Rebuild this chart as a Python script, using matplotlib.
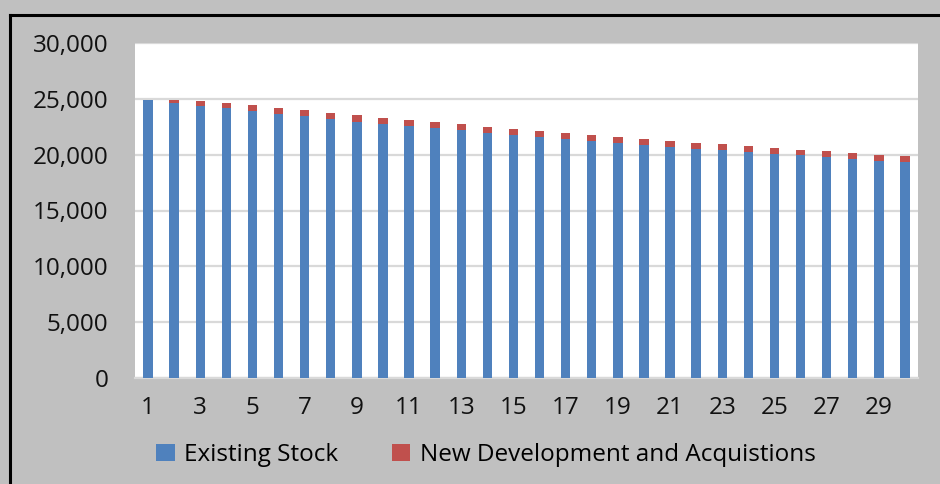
import matplotlib
matplotlib.use("Agg")
import matplotlib.pyplot as plt
from matplotlib.lines import Line2D
from matplotlib.ticker import FuncFormatter

# years 1..30
years = list(range(1, 31))
existing_stock = [24860, 24590, 24350, 24140, 23880, 23630, 23430, 23190, 22950, 22770,
                  22530, 22350, 22180, 21960, 21780, 21580, 21400, 21220, 21040, 20860,
                  20680, 20530, 20380, 20230, 20080, 19940, 19760, 19580, 19450, 19310]
new_dev = [0, 330, 480, 480, 530, 540, 530, 530, 570, 540,
           570, 540, 530, 540, 510, 530, 530, 530, 540, 540,
           570, 510, 540, 540, 510, 500, 540, 560, 550, 540]
series_names = ['Existing Stock', 'New Development and Acquistions']

plt.rcParams['font.family'] = ['Open Sans', 'DejaVu Sans']

fig = plt.figure(figsize=(9.4, 4.84), dpi=100)
fig.patch.set_facecolor('#c0c0c0')
# frame lines (left and top)
fig.add_artist(Line2D([10/940, 10/940], [0, 1 - 15/484], color='black', lw=2.2))
fig.add_artist(Line2D([10/940, 1], [1 - 15/484, 1 - 15/484], color='black', lw=2.2))

ax = fig.add_axes([135/940, 106/484, 783/940, 335/484])
ax.set_facecolor('white')
ax.bar(years, existing_stock, width=0.36, color='#4f81bd', label=series_names[0], zorder=3)
ax.bar(years, new_dev, width=0.36, bottom=existing_stock, color='#c0504d',
       label=series_names[1], zorder=3)

ax.set_xlim(0.5, 30.5)
ax.set_ylim(0, 30000)
ax.set_yticks(range(0, 30001, 5000))
ax.yaxis.set_major_formatter(FuncFormatter(lambda v, p: f'{int(v):,}'))
ax.set_xticks(years[::2])
ax.grid(axis='y', color='#d9d9d9', lw=1.6, zorder=0)
for s in ['top', 'right', 'left']:
    ax.spines[s].set_visible(False)
ax.spines['bottom'].set_color('#d9d9d9')
ax.spines['bottom'].set_linewidth(1.6)
ax.tick_params(axis='both', length=0, labelsize=17.5, colors='#111111')
ax.tick_params(axis='y', pad=19)
ax.tick_params(axis='x', pad=13)

leg = fig.legend(loc='center', bbox_to_anchor=(0.517, 1 - 455/484), ncol=2, frameon=False,
                 fontsize=17.5, handlelength=0.75, handleheight=0.75, columnspacing=2.2,
                 handletextpad=0.4)

fig.savefig('out.png', dpi=100, facecolor=fig.get_facecolor())
